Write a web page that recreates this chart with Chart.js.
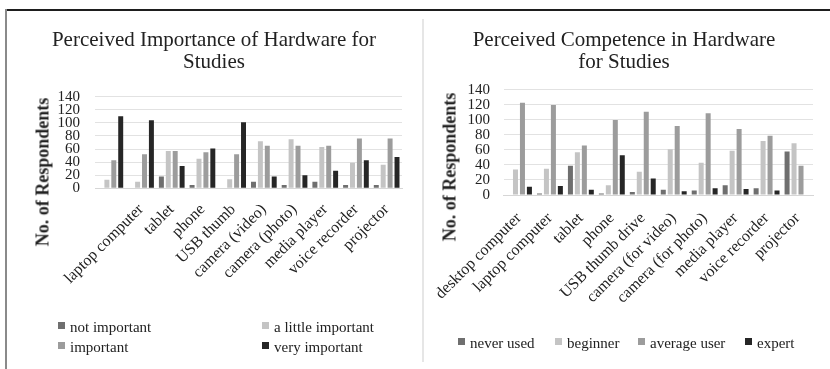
<!DOCTYPE html>
<html>
<head>
<meta charset="utf-8">
<script src="https://cdn.jsdelivr.net/npm/chart.js@4/dist/chart.umd.min.js"></script>
<style>
  html, body { margin: 0; padding: 0; background: #fff; }
  body { width: 830px; height: 369px; position: relative; overflow: hidden;
         font-family: "Liberation Serif", "Times New Roman", serif; color: #222; }
  .frame-top { position: absolute; left: 5px; top: 9px; width: 825px; height: 2px; background: #1e1e1e; }
  .frame-left { position: absolute; left: 5px; top: 9px; width: 2px; height: 360px; background: #8a8a8a; }
  .divider { position: absolute; left: 422px; top: 19px; width: 2px; height: 343px; background: #e6e6e6; }
  canvas { position: absolute; }
  .ytitle { position: absolute; font-family: "Liberation Serif", serif; font-weight: bold; font-size: 18px;
            white-space: nowrap; transform: translate(-50%, -50%) rotate(-90deg); color: #222; }
  .legend-item { position: absolute; font-family: "Liberation Serif", serif; font-size: 15px;
                 white-space: nowrap; line-height: 16px; transform: translateY(-50%); color: #222; }
  .legend-item .sw { display: inline-block; width: 7px; height: 7px; margin-right: 5px;
                     vertical-align: 3px; }
</style>
</head>
<body>
<div class="frame-top"></div>
<div class="frame-left"></div>
<div class="divider"></div>

<canvas id="importance" width="405" height="310" style="left:8px; top:12px;"></canvas>
<canvas id="competence" width="406" height="320" style="left:424px; top:12px;"></canvas>

<div class="ytitle" style="left:43px; top:172px;">No. of Respondents</div>
<div class="ytitle" style="left:450px; top:167px;">No. of Respondents</div>

<div id="legendLeft"></div>
<div id="legendRight"></div>

<script>
// Hardware items (first item of the importance chart carries no label)
const importanceCategories = ["", "laptop computer", "tablet", "phone", "USB thumb",
  "camera (video)", "camera (photo)", "media player", "voice recorder", "projector"];
const competenceCategories = ["desktop computer", "laptop computer", "tablet", "phone",
  "USB thumb drive", "camera (for video)", "camera (for photo)", "media player",
  "voice recorder", "projector"];

// Perceived importance (number of respondents)
const notImportant     = [1, 0, 18, 5, 0, 10, 5, 10, 5, 5];
const littleImportant  = [13, 10, 57, 45, 14, 72, 75, 63, 39, 36];
const important        = [43, 52, 57, 55, 52, 65, 65, 65, 76, 76];
const veryImportant    = [110, 104, 34, 61, 101, 18, 20, 27, 43, 48];

// Perceived competence (number of respondents)
const neverUsed   = [0, 2, 39, 2, 4, 7, 6, 13, 9, 58];
const beginner    = [34, 35, 57, 13, 31, 61, 43, 59, 72, 69];
const averageUser = [123, 120, 66, 100, 111, 92, 109, 88, 79, 39];
const expert      = [11, 12, 7, 53, 22, 5, 9, 8, 6, 0];

const yTicks = [0, 20, 40, 60, 80, 100, 120, 140];

const importanceNames = ["not important", "a little important", "important", "very important"];
const competenceNames = ["never used", "beginner", "average user", "expert"];
const shades = ["#6f6f6f", "#c4c4c4", "#9c9c9c", "#262626"];

const serif = "'Liberation Serif', 'Times New Roman', serif";
Chart.defaults.font.family = serif;
Chart.defaults.color = "#222";

function makeChart(id, categories, series, names, titleLines, opts) {
  const datasets = series.map((vals, i) => ({
    label: names[i],
    data: vals,
    backgroundColor: shades[i],
    borderWidth: 0,
    categoryPercentage: 0.9,
    barPercentage: 0.72
  }));
  return new Chart(document.getElementById(id), {
    type: "bar",
    data: { labels: categories, datasets },
    options: {
      responsive: false,
      animation: false,
      devicePixelRatio: 1,
      layout: { padding: opts.padding },
      plugins: {
        legend: { display: false },
        tooltip: { enabled: false },
        title: {
          display: true,
          text: titleLines,
          font: { size: 21, weight: "normal", family: serif, lineHeight: 1.04 },
          color: "#222",
          padding: opts.titlePadding
        }
      },
      scales: {
        x: {
          grid: { display: false },
          border: { display: true, color: "#d6d6d6" },
          ticks: { autoSkip: false, minRotation: 45, maxRotation: 45, padding: opts.xPad,
                   font: { size: opts.xFont, family: serif }, color: "#222" },
          // fixed band for the slanted item names
          afterFit: axis => {
            axis.height = opts.xHeight;
            axis.paddingLeft = 0;
            axis.paddingRight = 0;
          }
        },
        y: {
          min: 0, max: 140,
          afterBuildTicks: axis => { axis.ticks = yTicks.map(v => ({ value: v })); },
          grid: { color: "#e2e2e2", drawTicks: false },
          border: { display: false },
          ticks: { autoSkip: false, padding: opts.yPad, font: { size: 15, family: serif }, color: "#222" },
          afterFit: axis => {
            axis.width = opts.yWidth;
            axis.paddingTop = 0;
            axis.paddingBottom = 0;
          }
        }
      }
    }
  });
}

// chart body: 95..402 px across, value 140 at y≈97, zero at y≈188
makeChart("importance", importanceCategories,
  [notImportant, littleImportant, important, veryImportant], importanceNames,
  ["Perceived Importance of Hardware for", "Studies"],
  { padding: { left: 18, right: 11, top: 0, bottom: 3.7 }, yWidth: 69,
    titlePadding: { top: 18, bottom: 23 }, xPad: 4, xFont: 16, xHeight: 130, yPad: 15 });

// chart body: 503..813 px across, value 140 at y=90, zero at y=195
makeChart("competence", competenceCategories,
  [neverUsed, beginner, averageUser, expert], competenceNames,
  ["Perceived Competence in Hardware", "for Studies"],
  { padding: { left: 11, right: 17, top: 0, bottom: 7 }, yWidth: 68.5,
    titlePadding: { top: 18, bottom: 16.3 }, xPad: 6, xFont: 16, xHeight: 130, yPad: 13.5 });

// HTML legends built from the series names
function legend(containerId, names, positions) {
  const box = document.getElementById(containerId);
  names.forEach((n, i) => {
    const d = document.createElement("div");
    d.className = "legend-item";
    d.style.left = positions[i][0] + "px";
    d.style.top = positions[i][1] + "px";
    const sw = document.createElement("span");
    sw.className = "sw";
    sw.style.background = shades[i];
    d.appendChild(sw);
    d.appendChild(document.createTextNode(n));
    box.appendChild(d);
  });
}
legend("legendLeft", importanceNames, [[58, 327], [262, 327], [58, 347], [262, 347]]);
legend("legendRight", competenceNames, [[458, 343], [555, 343], [638, 343], [745, 343]]);
</script>
</body>
</html>
